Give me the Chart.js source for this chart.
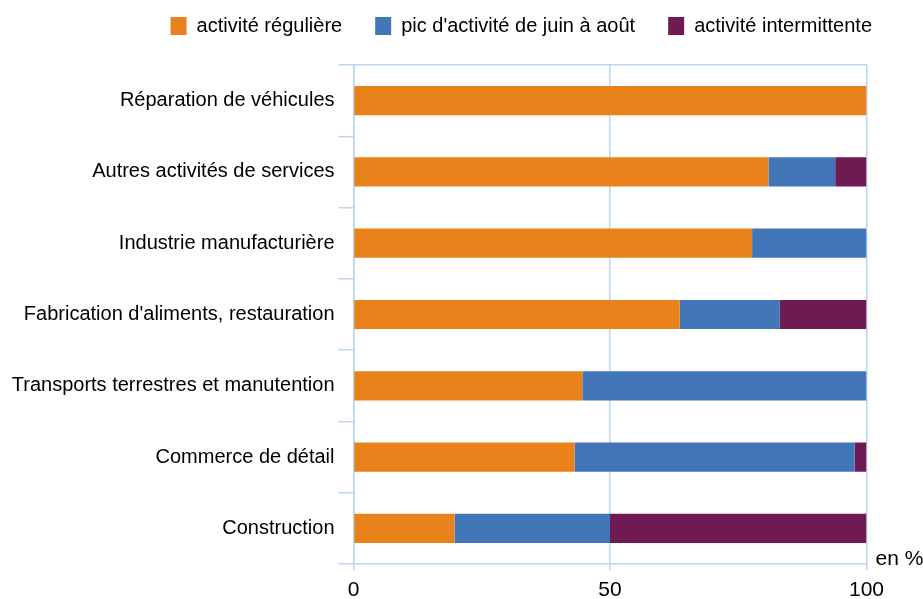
<!DOCTYPE html>
<html>
<head>
<meta charset="utf-8">
<script src="https://cdn.jsdelivr.net/npm/chart.js@4"></script>
<style>
  html, body { margin: 0; padding: 0; background: #fff; }
  #wrap { width: 923px; height: 599px; }
</style>
</head>
<body>
<div id="wrap"><canvas id="myChart"></canvas></div>
<script>
var categories = [
    'Réparation de véhicules',
    'Autres activités de services',
    'Industrie manufacturière',
    "Fabrication d'aliments, restauration",
    'Transports terrestres et manutention',
    'Commerce de détail',
    'Construction'
];
var regularValues = [100, 80.9, 77.7, 63.6, 44.6, 43.1, 19.7];
var summerValues = [0, 13.0, 22.3, 19.5, 55.4, 54.6, 30.3];
var intermittentValues = [0, 6.1, 0, 16.9, 0, 2.3, 50.0];
var xTicks = [0, 50, 100];

var FONT = "'Liberation Sans', Arial, sans-serif";
var GRID = '#BBD5EE';

// "en %" unit label next to the end of the x axis
var unitLabel = {
    id: 'unitLabel',
    afterDraw: function(chart) {
        var ctx = chart.ctx, a = chart.chartArea;
        ctx.save();
        ctx.fillStyle = '#000';
        ctx.font = '21px ' + FONT;
        ctx.textAlign = 'left';
        ctx.textBaseline = 'alphabetic';
        ctx.fillText('en %', a.right + 9, a.bottom + 1);
        ctx.restore();
    }
};

var ctx = document.getElementById('myChart').getContext('2d');
var myChart = new Chart(ctx, {
    type: 'bar',
    data: {
        labels: categories,
        datasets: [
            { label: 'activité régulière', data: regularValues, backgroundColor: '#E9821A' },
            { label: "pic d'activité de juin à août", data: summerValues, backgroundColor: '#4276B8' },
            { label: 'activité intermittente', data: intermittentValues, backgroundColor: '#6F1A52' }
        ]
    },
    options: {
        indexAxis: 'y',
        responsive: true,
        maintainAspectRatio: false,
        animation: false,
        datasets: { bar: { barPercentage: 0.41, categoryPercentage: 1 } },
        layout: { padding: { left: 8, right: 18, top: -17, bottom: 0 } },
        plugins: {
            legend: {
                position: 'top',
                align: 'end',
                labels: {
                    boxWidth: 16, boxHeight: 18,
                    color: '#000',
                    font: { family: FONT, size: 20 },
                    padding: 33
                }
            },
            tooltip: { enabled: false }
        },
        scales: {
            x: {
                stacked: true,
                min: 0, max: 100,
                afterBuildTicks: function(scale) {
                    scale.ticks = xTicks.map(function(v) { return { value: v }; });
                },
                afterFit: function(scale) { scale.height = 35; },
                ticks: { color: '#000', font: { family: FONT, size: 21 }, padding: 8, maxRotation: 0 },
                grid: { color: GRID, lineWidth: 1.5, tickLength: 6 },
                border: { color: GRID, width: 1.5 }
            },
            x2: {
                type: 'linear',
                position: 'top',
                min: 0, max: 100,
                afterFit: function(scale) { scale.height = 19; },
                ticks: { display: false },
                grid: { display: false },
                border: { color: GRID, width: 1.5 }
            },
            y: {
                stacked: true,
                afterFit: function(scale) { scale.width = 345.5; },
                ticks: { color: '#000', font: { family: FONT, size: 20 }, padding: 4 },
                grid: { offset: true, drawOnChartArea: false, color: GRID, lineWidth: 1.5, tickLength: 15 },
                border: { color: GRID, width: 1.5 }
            },
            y2: {
                type: 'category',
                position: 'right',
                afterFit: function(scale) { scale.width = 38.5; },
                ticks: { display: false },
                grid: { display: false },
                border: { display: false }
            }
        }
    },
    plugins: [unitLabel]
});
</script>
</body>
</html>
